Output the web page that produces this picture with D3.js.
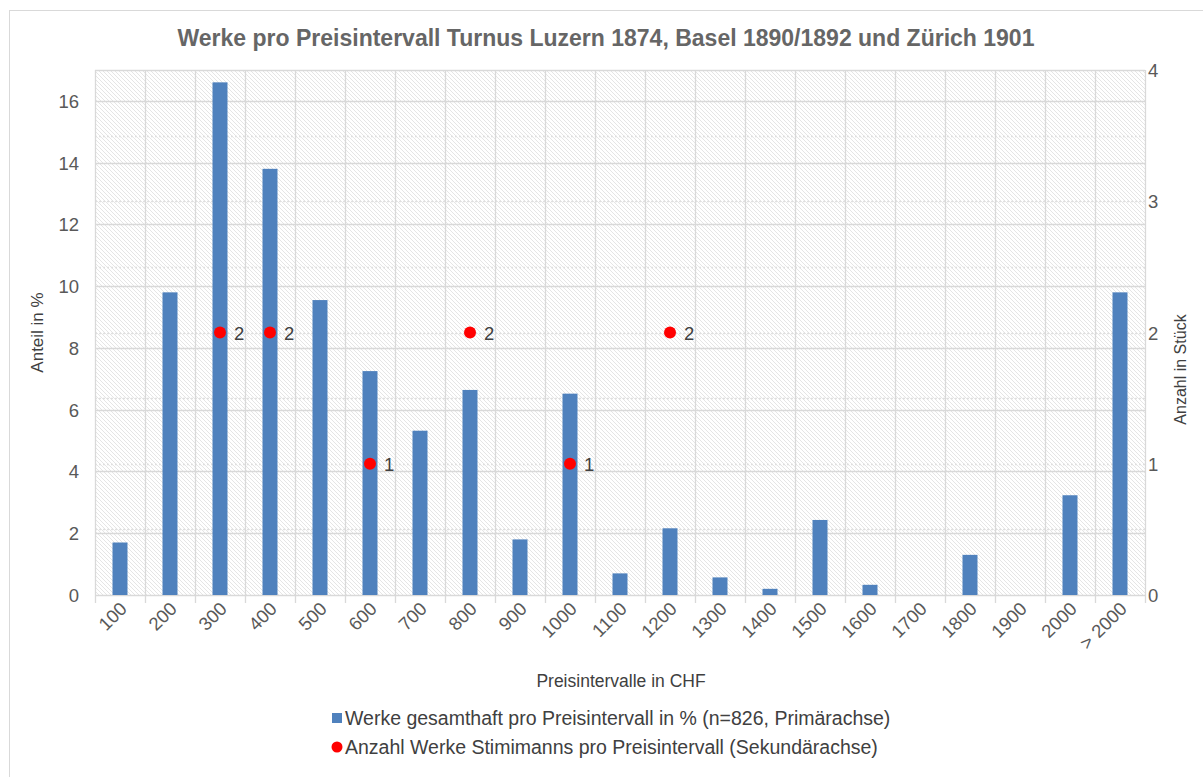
<!DOCTYPE html>
<html lang="de">
    <head>
        <meta charset="utf-8">
        <title>Werke pro Preisintervall</title>
        <script src="https://d3js.org/d3.v7.min.js"></script>
        <style>
            body { margin: 0; background-color: white; }
            text { font-family: "Liberation Sans", Arial, sans-serif; }
        </style>
    </head>
    <body>
        <div id="chart"></div>
        <script type="text/javascript">
            // data
            var categories = ["100", "200", "300", "400", "500", "600", "700", "800", "900", "1000",
                "1100", "1200", "1300", "1400", "1500", "1600", "1700", "1800", "1900", "2000", "> 2000"];
            var percentValues = [1.7, 9.8, 16.6, 13.8, 9.55, 7.25, 5.32, 6.64, 1.8, 6.52,
                0.7, 2.16, 0.57, 0.2, 2.43, 0.33, 0, 1.3, 0, 3.23, 9.8];
            var stimimannCats = ["300", "400", "600", "800", "1000", "1200"];
            var stimimannValues = [2, 2, 1, 2, 1, 2];
            var leftTicks = [0, 2, 4, 6, 8, 10, 12, 14, 16];
            var rightTicks = [0, 1, 2, 3, 4];
            var rightGrid = [0.5, 1, 1.5, 2, 2.5, 3, 3.5];

            var W = 1203, H = 777;
            var plot = {left: 95, right: 1145, top: 70, bottom: 595};
            var grey = "#595959";

            var svg = d3.select("#chart").append("svg")
                .attr("width", W)
                .attr("height", H);

            var defs = svg.append("defs");
            var pat = defs.append("pattern")
                .attr("id", "hatch")
                .attr("patternUnits", "userSpaceOnUse")
                .attr("width", 4)
                .attr("height", 4);
            pat.append("rect").attr("width", 4).attr("height", 4).attr("fill", "white");
            pat.append("path")
                .attr("d", "M-1,-1 L5,5 M-1,3 L1,5 M3,-1 L5,1")
                .attr("stroke", "#e2e2e2")
                .attr("stroke-width", 0.9);

            // chart frame
            svg.append("rect")
                .attr("x", 9.5).attr("y", 10.5)
                .attr("width", 1400).attr("height", 1000)
                .attr("fill", "white")
                .attr("stroke", "#d9d9d9");

            var x = d3.scaleBand()
                .domain(categories)
                .range([plot.left, plot.right])
                .paddingInner(0.7)
                .paddingOuter(0.35);
            var xBand = d3.scaleBand()
                .domain(categories)
                .range([plot.left, plot.right]);
            var y = d3.scaleLinear().domain([0, 17]).range([plot.bottom, plot.top]);
            var y2 = d3.scaleLinear().domain([0, 4]).range([plot.bottom, plot.top]);

            // plot background
            svg.append("rect")
                .attr("x", plot.left).attr("y", plot.top)
                .attr("width", plot.right - plot.left)
                .attr("height", plot.bottom - plot.top)
                .attr("fill", "url(#hatch)");

            // secondary grid (dotted)
            svg.append("g").selectAll("line")
                .data(rightGrid)
                .join("line")
                .attr("x1", plot.left).attr("x2", plot.right)
                .attr("y1", d => Math.round(y2(d)) + 0.5)
                .attr("y2", d => Math.round(y2(d)) + 0.5)
                .attr("stroke", "#e0e0e0")
                .attr("stroke-width", 1.3)
                .attr("stroke-dasharray", "2,2");

            // primary grid
            svg.append("g").selectAll("line")
                .data(leftTicks.concat([17]))
                .join("line")
                .attr("x1", plot.left).attr("x2", plot.right)
                .attr("y1", d => Math.round(y(d)) + 0.5)
                .attr("y2", d => Math.round(y(d)) + 0.5)
                .attr("stroke", "#d9d9d9")
                .attr("stroke-width", 1.3);

            // vertical grid + ticks
            var bounds = categories.map(c => xBand(c)).concat([plot.right]);
            svg.append("g").selectAll("line")
                .data(bounds)
                .join("line")
                .attr("x1", d => Math.round(d) + 0.5).attr("x2", d => Math.round(d) + 0.5)
                .attr("y1", plot.top).attr("y2", plot.bottom + 8)
                .attr("stroke", "#d9d9d9")
                .attr("stroke-width", 1.3);

            // bars
            svg.append("g").selectAll("rect")
                .data(categories)
                .join("rect")
                .attr("x", d => x(d))
                .attr("width", x.bandwidth())
                .attr("y", (d, i) => y(percentValues[i]))
                .attr("height", (d, i) => plot.bottom - y(percentValues[i]))
                .attr("fill", "#4f81bd");

            // red points on secondary axis
            var pts = svg.append("g");
            pts.selectAll("circle")
                .data(stimimannCats)
                .join("circle")
                .attr("cx", d => xBand(d) + xBand.bandwidth() / 2)
                .attr("cy", (d, i) => y2(stimimannValues[i]))
                .attr("r", 6)
                .attr("fill", "#ff0000");
            pts.selectAll("text")
                .data(stimimannCats)
                .join("text")
                .attr("x", d => xBand(d) + xBand.bandwidth() / 2 + 14)
                .attr("y", (d, i) => y2(stimimannValues[i]) + 7)
                .style("font-size", "18.5px")
                .style("fill", "#404040")
                .text((d, i) => stimimannValues[i]);

            // left axis labels
            svg.append("g").selectAll("text")
                .data(leftTicks)
                .join("text")
                .attr("x", 79)
                .attr("y", d => y(d) + 7)
                .attr("text-anchor", "end")
                .style("font-size", "18.5px")
                .style("fill", grey)
                .text(d => d);

            // right axis labels
            svg.append("g").selectAll("text")
                .data(rightTicks)
                .join("text")
                .attr("x", 1148)
                .attr("y", d => y2(d) + 7)
                .attr("text-anchor", "start")
                .style("font-size", "18.5px")
                .style("fill", grey)
                .text(d => d);

            // x axis labels
            svg.append("g").selectAll("text")
                .data(categories)
                .join("text")
                .attr("transform", d => "translate(" + (xBand(d) + xBand.bandwidth() / 2 + 8) + "," + (plot.bottom + 15) + ") rotate(-45)")
                .attr("text-anchor", "end")
                .style("font-size", "18.5px")
                .style("fill", grey)
                .text(d => d);

            // titles
            svg.append("text")
                .attr("x", 606).attr("y", 46)
                .attr("text-anchor", "middle")
                .style("font-size", "23px")
                .style("font-weight", "bold")
                .style("fill", "#666666")
                .text("Werke pro Preisintervall Turnus Luzern 1874, Basel 1890/1892 und Zürich 1901");

            svg.append("text")
                .attr("transform", "translate(43," + ((plot.top + plot.bottom) / 2) + ") rotate(-90)")
                .attr("text-anchor", "middle")
                .style("font-size", "17px")
                .style("fill", "#404040")
                .text("Anteil in %");

            svg.append("text")
                .attr("transform", "translate(1186," + ((plot.top + plot.bottom) / 2 + 37) + ") rotate(-90)")
                .attr("text-anchor", "middle")
                .style("font-size", "16px")
                .style("fill", "#404040")
                .text("Anzahl in Stück");

            svg.append("text")
                .attr("x", 621).attr("y", 687)
                .attr("text-anchor", "middle")
                .style("font-size", "17.5px")
                .style("fill", "#404040")
                .text("Preisintervalle in CHF");

            // legend
            var lg = svg.append("g");
            lg.append("rect")
                .attr("x", 332).attr("y", 713)
                .attr("width", 10).attr("height", 10)
                .attr("fill", "#4f81bd");
            lg.append("text")
                .attr("x", 345).attr("y", 725)
                .style("font-size", "19.5px")
                .style("fill", "#404040")
                .text("Werke gesamthaft pro Preisintervall in % (n=826, Primärachse)");
            lg.append("circle")
                .attr("cx", 337).attr("cy", 747)
                .attr("r", 5.5)
                .attr("fill", "#ff0000");
            lg.append("text")
                .attr("x", 345).attr("y", 754)
                .style("font-size", "19.5px")
                .style("fill", "#404040")
                .text("Anzahl Werke Stimimanns pro Preisintervall (Sekundärachse)");
        </script>
    </body>
</html>
